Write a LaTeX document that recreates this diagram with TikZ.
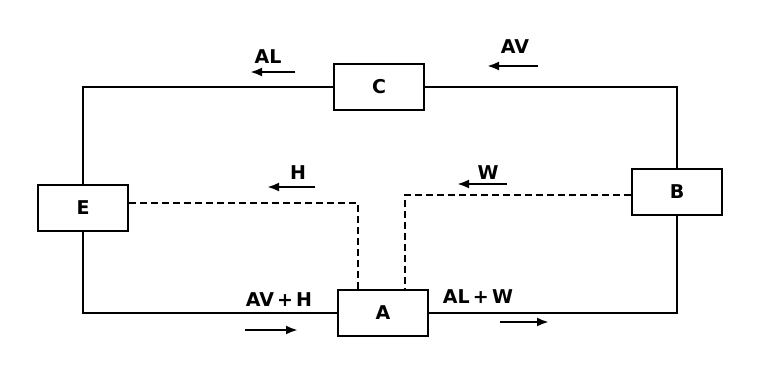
\documentclass[tikz,border=0pt]{standalone}
\usepackage{fontspec}
\setmainfont{DejaVu Sans}
\usetikzlibrary{arrows.meta}
\begin{document}
\begin{tikzpicture}[x=1pt,y=-1pt,
  unit/.style={draw,line width=2.6pt,minimum width=90pt,minimum height=46pt,inner sep=0pt,font=\fontsize{19}{19}\bfseries\selectfont},
  pipe/.style={line width=2.6pt},
  dpipe/.style={line width=2.8pt,dash pattern=on 7pt off 4pt},
  lbl/.style={font=\fontsize{19}{19}\bfseries\selectfont},
  flow/.style={line width=2.8pt,-{Latex[length=12pt,width=9pt]}}]
\useasboundingbox (0,0) rectangle (761,383);
\node[unit] (C) at (379,87) {C};
\node[unit] (E) at (83,208) {E};
\node[unit] (B) at (677,192) {B};
\node[unit] (A) at (383,313) {A};
% solid loop
\draw[pipe] (E.north) |- (C.west);
\draw[pipe] (C.east) -| (B.north);
\draw[pipe] (E.south) |- (A.west);
\draw[pipe] (A.east) -| (B.south);
% dashed lines
\coordinate (dh) at (358,203);
\coordinate (dw) at (405,195);
\draw[dpipe] (E.east |- dh) -- (dh) -- (dh |- A.north);
\draw[dpipe] (B.west |- dw) -- (dw) -- (dw |- A.north);
% labels and flow arrows
\node[lbl] (lAL) at (268,57) {AL};
\coordinate (aAL1) at (295,72); \coordinate (aAL2) at (250,72);
\draw[flow] (aAL1) -- (aAL2);
\node[lbl] (lAV) at (515,47) {AV};
\coordinate (aAV1) at (538,66); \coordinate (aAV2) at (487,66);
\draw[flow] (aAV1) -- (aAV2);
\node[lbl] (lH) at (298,173) {H};
\coordinate (aH1) at (315,187); \coordinate (aH2) at (267,187);
\draw[flow] (aH1) -- (aH2);
\node[lbl] (lW) at (488,173) {W};
\coordinate (aW1) at (507,184); \coordinate (aW2) at (457,184);
\draw[flow] (aW1) -- (aW2);
\node[lbl] (lAVH) at (279,300) {AV\,+\,H};
\coordinate (aAVH1) at (245,330); \coordinate (aAVH2) at (298,330);
\draw[flow] (aAVH1) -- (aAVH2);
\node[lbl] (lALW) at (478,297) {AL\,+\,W};
\coordinate (aALW1) at (500,322); \coordinate (aALW2) at (549,322);
\draw[flow] (aALW1) -- (aALW2);
\end{tikzpicture}
\end{document}
